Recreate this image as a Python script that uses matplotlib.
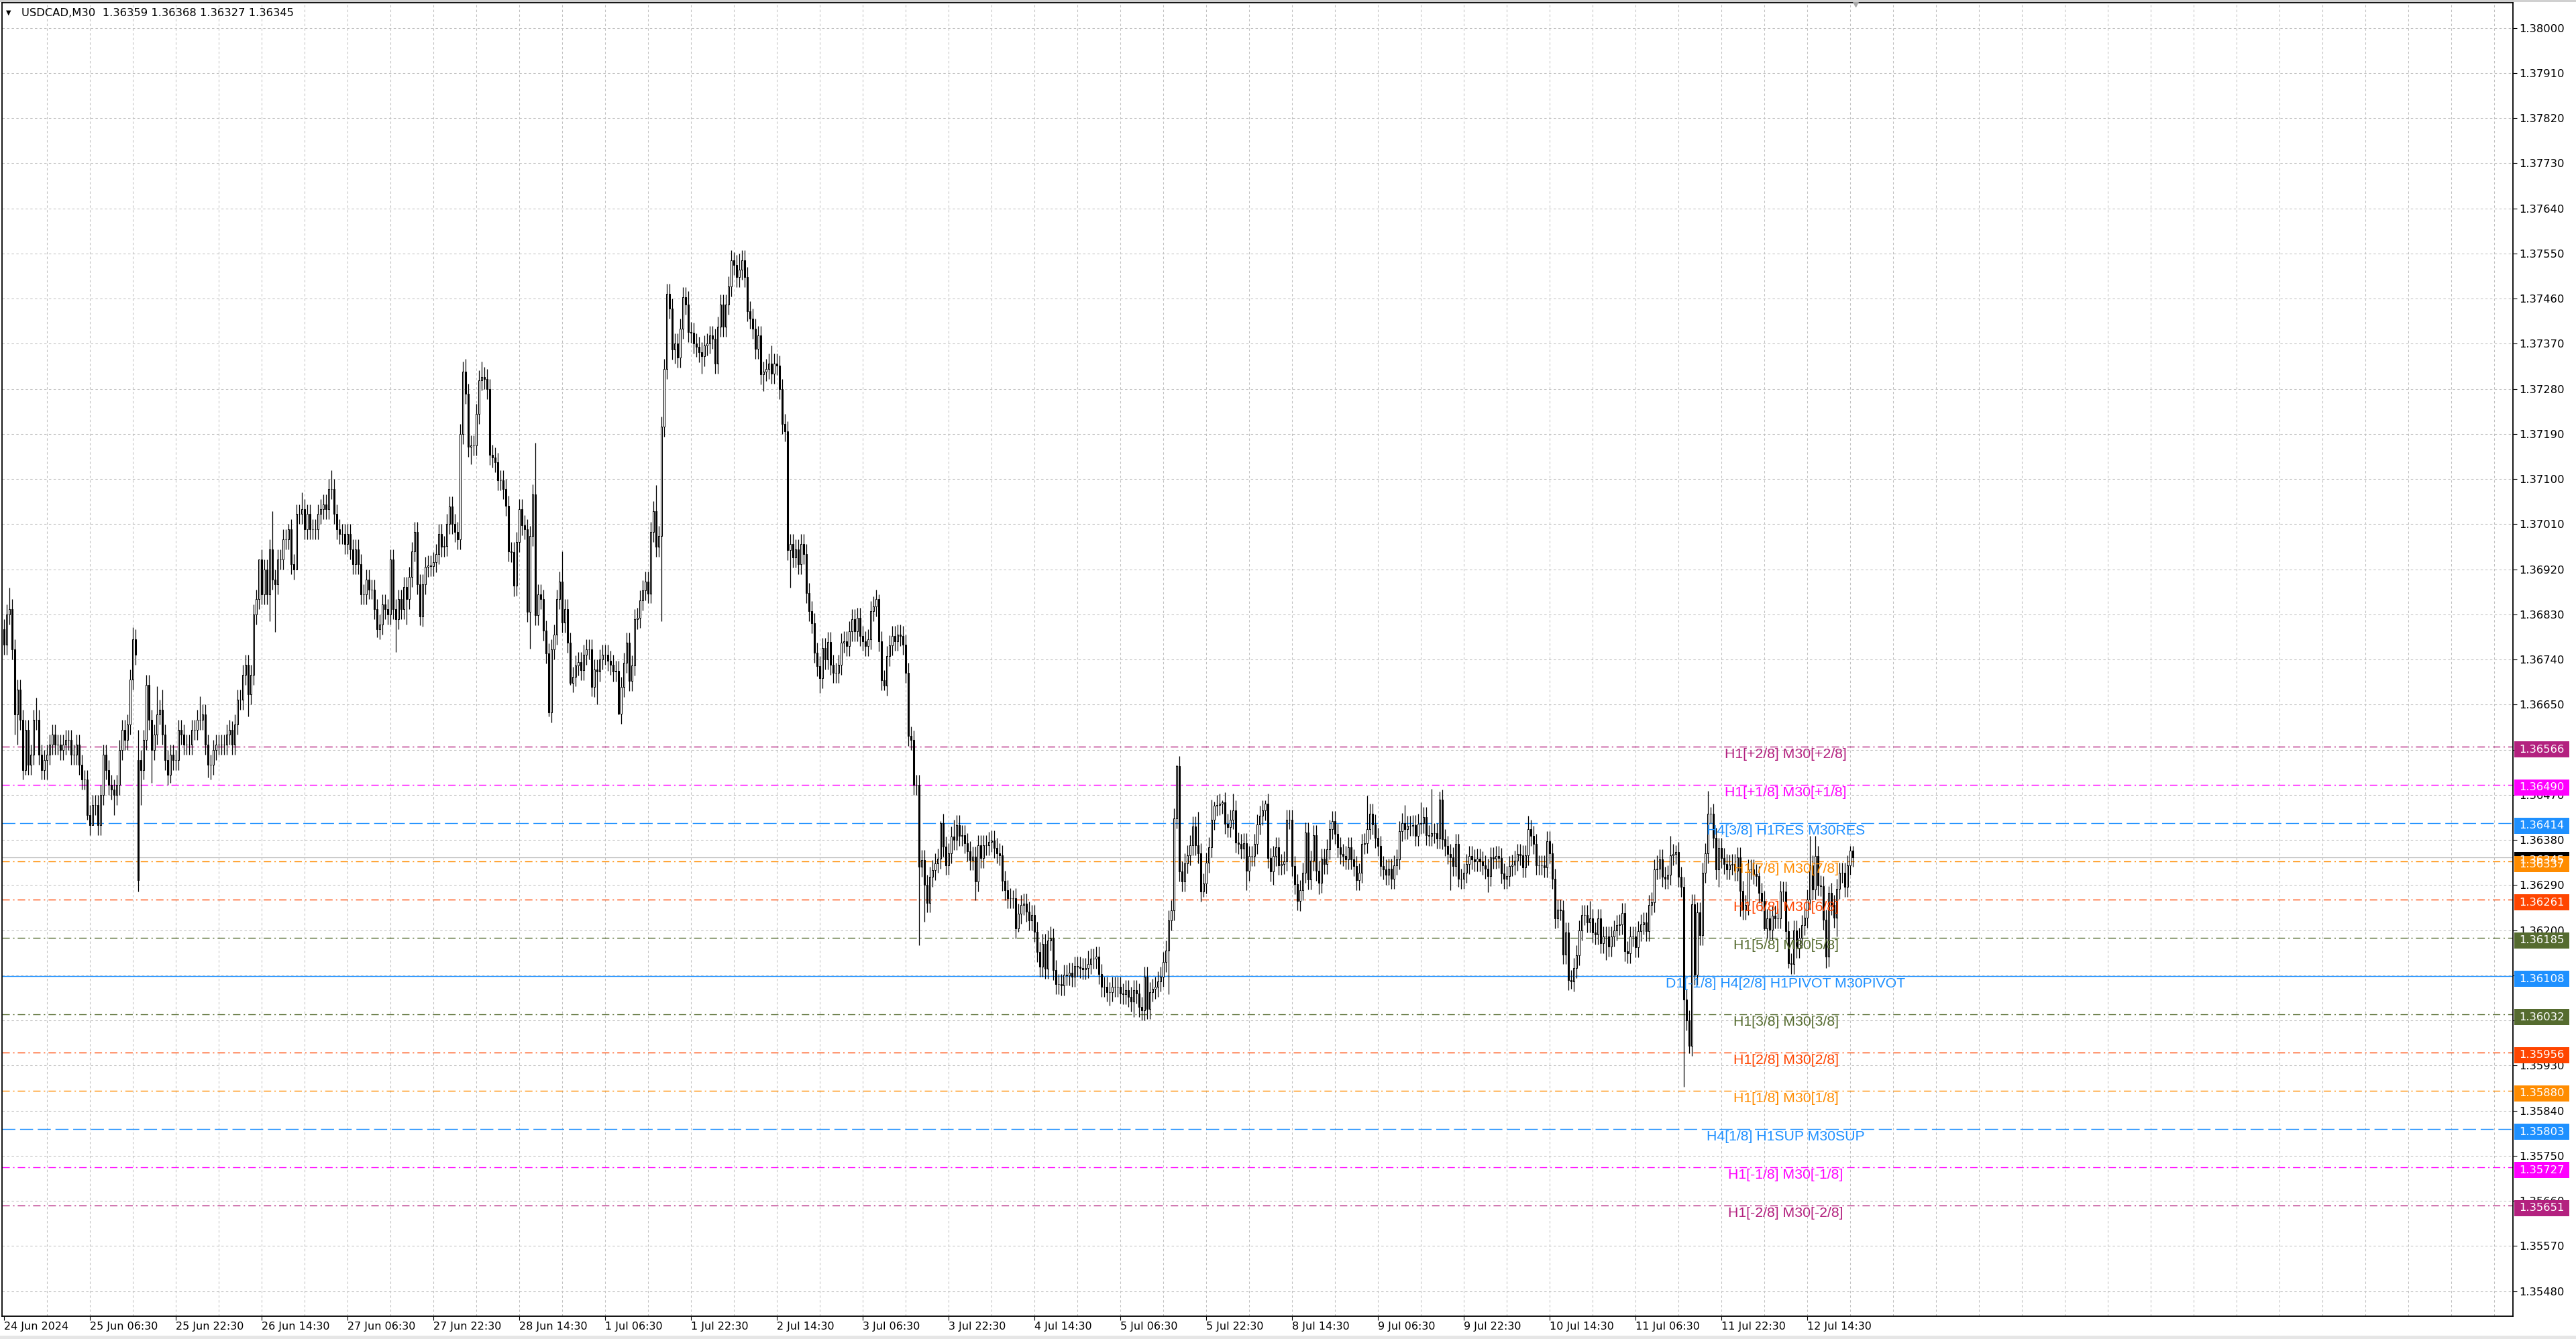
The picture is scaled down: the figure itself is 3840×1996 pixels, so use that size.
import numpy as np
import matplotlib
matplotlib.use("Agg")
import matplotlib.pyplot as plt
from matplotlib.patches import Rectangle
from matplotlib.transforms import blended_transform_factory

plt.rcParams['lines.scale_dashes'] = False

# prices are kept in pips above 1.3600
BASE = 1.3600
PIP = 0.0001

# M30 closes, 24 Jun 14:30 -> 12 Jul 23:30
close_pips = [
    77, 83, 84, 76, 63, 68, 62, 52, 60, 53,
    55, 62, 62, 55, 52, 54, 55, 57, 59, 57,
    57, 56, 57, 58, 58, 55, 55, 57, 53, 50,
    50, 43, 41, 45, 45, 41, 47, 55, 52, 49,
    48, 47, 49, 56, 60, 58, 61, 70, 78, 75,
    30, 52, 58, 69, 62, 56, 59, 63, 64, 59,
    54, 51, 55, 54, 54, 60, 59, 57, 57, 57,
    60, 60, 62, 62, 63, 57, 53, 53, 56, 57,
    57, 57, 57, 59, 60, 57, 61, 66, 66, 71,
    73, 67, 71, 83, 86, 94, 87, 92, 87, 96,
    90, 89, 94, 94, 98, 98, 100, 93, 92, 103,
    103, 104, 100, 103, 100, 100, 100, 103, 104, 105,
    104, 108, 108, 103, 100, 99, 99, 97, 99, 96,
    93, 96, 93, 87, 87, 90, 88, 88, 84, 80,
    81, 85, 84, 83, 94, 84, 82, 86, 84, 88.5,
    86, 90.5, 95.5, 99.5, 89, 82.6, 89, 92.5, 92.7, 92.6,
    93.4, 95, 99, 96.5, 96.6, 101, 104.6, 101, 99.5, 98,
    119, 131.5, 127, 116.4, 116.7, 116.7, 123, 129.7, 130.4, 130,
    128, 114.8, 114.3, 113.3, 109.7, 109.7, 108, 104.7, 95.5, 95.4,
    88.8, 97.4, 104, 100.8, 100, 83.5, 98.6, 107, 82.9, 87,
    86, 79.8, 75.2, 63.5, 76, 79, 86, 89.5, 81.4, 84,
    77.4, 69.4, 70.6, 72.8, 73.5, 71.9, 75, 76, 76, 68.5,
    72, 71.6, 74, 75, 75, 73.7, 73, 71.6, 71.8, 63.2,
    68.5, 73.4, 77.4, 69.7, 72.8, 82, 82.3, 85.8, 87.8, 89.5,
    87.2, 99.5, 103.6, 96.5, 98.7, 120.4, 132, 146.9, 144, 135.8,
    137, 134.3, 140, 146.3, 144.8, 139.3, 139.2, 137, 136.4, 135.3,
    134.5, 136.7, 137, 138.6, 138, 133, 140.4, 144.8, 140.4, 144.8,
    148.4, 153.6, 152.7, 150.3, 151.8, 153.6, 150.3, 143.5, 142, 140,
    136, 138.6, 130.9, 131.5, 132, 133, 131, 133, 132.7, 128,
    121, 119.5, 95.8, 97, 94.3, 96, 93, 97, 95, 87.3,
    83.7, 81.3, 75.3, 72.7, 70.3, 76.3, 74, 77.5, 73, 71.3,
    71.3, 73, 77.3, 77.6, 76.7, 79.6, 82, 79.6, 82.3, 78.7,
    77.7, 76.7, 78, 83.7, 84.6, 86, 77.6, 69.9, 68.8, 74.7,
    76.8, 78.7, 77.7, 79, 78.7, 77, 71.3, 58.7, 57.9, 49,
    49, 32.7, 34, 29, 25.5, 30.7, 32, 33.4, 34.3, 41.3,
    36.7, 33, 35.4, 38.7, 38, 41, 38.8, 39, 37.4, 35.7,
    34, 34.7, 29.7, 37, 34.4, 37, 37, 37.6, 37.9, 36.4,
    35.3, 35, 29.9, 28, 26.4, 26.4, 26.4, 20.3, 23.3, 25,
    25.3, 23.7, 22, 23, 19.7, 15.7, 12.7, 17.3, 12.3, 18,
    18.4, 12, 9.3, 9.2, 9, 11.1, 11, 11.5, 10.7, 12.8,
    12.7, 12.5, 12.2, 12.5, 13.3, 14.3, 14.3, 14.7, 11.3, 8.7,
    8.7, 7.7, 7.7, 8.7, 8.7, 8.7, 7.4, 7.2, 8, 6.7,
    5.7, 8, 7.4, 4.7, 4, 10.7, 4.3, 7.7, 8.3, 8.7,
    9.8, 10.7, 13.7, 16, 22, 24, 42.3, 52.7, 31.7, 29.7,
    33.3, 35, 37, 40.7, 37, 35.3, 27.7, 29.3, 33.5, 36.6,
    42, 44.8, 45, 45.2, 45.5, 41.2, 40.5, 42.1, 43.9, 37.5,
    37.2, 36.3, 37.4, 31.9, 34.8, 34.8, 37.2, 41.1, 42.9, 43.9,
    45.2, 34.4, 31.7, 34.8, 36.5, 33, 33.2, 33.8, 42.1, 42.1,
    32.8, 29.2, 25.9, 28, 31.5, 39.5, 30.1, 33.9, 38.9, 31.9,
    29.4, 34.3, 33.2, 36.1, 40.1, 41.8, 39.2, 36.6, 35.2, 34.8,
    34.1, 36.5, 34.1, 32.8, 30, 31.4, 37.2, 37.4, 40.1, 43.3,
    41.1, 38.4, 36.8, 32.8, 32.1, 31, 32.3, 30.3, 33, 34.1,
    39.7, 41.4, 40.1, 40.8, 40.8, 41, 38.8, 41.2, 41.4, 42.6,
    39, 38.8, 39.3, 39.4, 38.3, 46.1, 38.1, 36.8, 35.2, 34.6,
    32.8, 37.2, 30.3, 30.3, 31.4, 33.2, 34.8, 34.1, 33.7, 34.3,
    33.7, 33, 32.3, 30.8, 34.6, 34.3, 34.8, 34.4, 31.3, 30.3,
    30.8, 32.8, 33.1, 33.9, 35.2, 35, 32.5, 35, 40.1, 38.8,
    37.2, 33, 33, 33, 32.5, 37.7, 35.4, 30.3, 22.3, 24.1,
    24, 15.2, 19.6, 10, 9.8, 12.5, 15, 19.9, 23, 23,
    21.6, 22.3, 19.6, 19.2, 22.3, 17.4, 18.7, 18.7, 16.7, 18.7,
    19.9, 21, 21.2, 23.4, 15.8, 15.4, 18.7, 18.7, 16.6, 19.8,
    21.2, 21.5, 19.8, 25, 25.6, 32.1, 32.2, 34.1, 30.6, 30.3,
    31, 35, 35.2, 35.6, 30.6, 28.6, 6.2, 2, -3.1, 25.2,
    11.1, 23.6, 19, 31.5, 35.3, 43.3, 43.3, 38.4, 32.1, 36.4,
    34.4, 33.2, 32.1, 33.1, 33.2, 31.9, 34.6, 27.9, 24.1, 25,
    32.1, 32.1, 31.2, 30.8, 27.4, 25.9, 20.3, 22.3, 20.1, 22.9,
    22.4, 22.3, 27.7, 27.7, 19.8, 13.4, 13.2, 20, 16.5, 18.5,
    21, 22.5, 26.1, 33, 28.1, 34.8, 28.9, 28.8, 22.1, 14.7,
    27.4, 25, 22.5, 28.3, 31.5, 31.5, 28.6, 33, 35.9, 34.5,
]
first_open = 80
open_fix = {50: 54, 51: 54}

# wick extremes that stand out in the picture
high_pips = {2: 88.3, 12: 66.4, 48: 80.4, 50: 60, 53: 71, 57: 68.7, 59: 68, 73: 66.6,
             85: 61.7, 95: 74.2, 100: 103.6, 106: 101, 111: 107.3, 122: 111.7, 172: 134,
             178: 133.4, 198: 117.2, 208: 95.5, 243: 108.8, 248: 149, 255: 147.5,
             272: 155.2, 274: 155, 286: 136.7, 326: 87, 349: 41.7, 354: 42, 366: 39,
             376: 28, 390: 20.7, 404: 16, 437: 53, 445: 43.7, 450: 46, 451: 45.7,
             454: 45.9, 458: 47.2, 470: 45.9, 508: 46.8, 522: 45, 528: 45.5, 532: 48.2,
             535: 47.7, 568: 42.8, 576: 39.7, 591: 25.9, 616: 35, 621: 38.8, 623: 37,
             635: 47.8, 636: 44.6, 662: 29.9, 673: 38.8, 675: 38.8, 680: 28.8,
             688: 36.8, 689: 36.8}
low_pips = {4: 59, 5: 57, 8: 51, 14: 50, 16: 50, 31: 42, 33: 41, 41: 43, 50: 27.7,
            51: 45, 55: 49.4, 62: 49.4, 76: 50.4, 77: 50, 91: 62.6, 99: 81.6, 101: 79.5,
            109: 92, 139: 78.5, 146: 75.5, 150: 81, 155: 80.8, 174: 113, 190: 86.6,
            196: 76.2, 203: 62.6, 211: 69, 219: 66.6, 221: 65, 229: 63, 245: 81.7,
            250: 133, 260: 131, 283: 127.5, 293: 88.3, 304: 67.3, 328: 67.8, 341: 17,
            343: 21.7, 362: 26, 378: 19.7, 388: 10.3, 412: 5, 421: 2.7, 434: 7.3,
            447: 26.7, 463: 28, 473: 29, 482: 24, 490: 27.2, 505: 28, 517: 28.3,
            539: 28, 542: 28.7, 553: 27.6, 579: 20.5, 584: 8.3, 597: 14, 604: 13.8,
            626: -11.2, 628: -4.5, 639: 28.6, 647: 22.8, 656: 20, 665: 12.5, 666: 11.2,
            679: 12.5, 683: 18.7, 689: 32.7}
WICK = 2.0

price_ticks = [1.35480, 1.35570, 1.35660, 1.35750, 1.35840, 1.35930, 1.36020, 1.36110,
               1.36200, 1.36290, 1.36380, 1.36470, 1.36560, 1.36650, 1.36740, 1.36830,
               1.36920, 1.37010, 1.37100, 1.37190, 1.37280, 1.37370, 1.37460, 1.37550,
               1.37640, 1.37730, 1.37820, 1.37910, 1.38000]
time_labels = ["24 Jun 2024", "25 Jun 06:30", "25 Jun 22:30", "26 Jun 14:30", "27 Jun 06:30",
               "27 Jun 22:30", "28 Jun 14:30", "1 Jul 06:30", "1 Jul 22:30", "2 Jul 14:30",
               "3 Jul 06:30", "3 Jul 22:30", "4 Jul 14:30", "5 Jul 06:30", "5 Jul 22:30",
               "8 Jul 14:30", "9 Jul 06:30", "9 Jul 22:30", "10 Jul 14:30", "11 Jul 06:30",
               "11 Jul 22:30", "12 Jul 14:30"]

level_prices = [1.36566, 1.36490, 1.36414, 1.36337, 1.36261, 1.36185, 1.36108,
                1.36032, 1.35956, 1.35880, 1.35803, 1.35727, 1.35651]
level_names = ["H1[+2/8] M30[+2/8]", "H1[+1/8] M30[+1/8]", "H4[3/8] H1RES M30RES",
               "H1[7/8] M30[7/8]", "H1[6/8] M30[6/8]", "H1[5/8] M30[5/8]",
               "D1[-1/8] H4[2/8] H1PIVOT M30PIVOT", "H1[3/8] M30[3/8]", "H1[2/8] M30[2/8]",
               "H1[1/8] M30[1/8]", "H4[1/8] H1SUP M30SUP", "H1[-1/8] M30[-1/8]",
               "H1[-2/8] M30[-2/8]"]
level_colors = ["#B3217F", "#FF00FF", "#1E90FF", "#FF8C00", "#FF4500", "#556B2F", "#1E90FF",
                "#556B2F", "#FF4500", "#FF8C00", "#1E90FF", "#FF00FF", "#B3217F"]
level_kind = ["dd", "dd", "dash", "dd", "dd", "dd", "solid",
              "dd", "dd", "dd", "dash", "dd", "dd"]
last_price = 1.36345

# build OHLC
closes = BASE + np.array(close_pips) * PIP
opens = np.r_[BASE + first_open * PIP, closes[:-1]]
for k, v in open_fix.items():
    opens[k] = BASE + v * PIP
top = np.maximum(opens, closes)
bot = np.minimum(opens, closes)
highs = top + WICK * PIP
lows = bot - WICK * PIP
for k, v in high_pips.items():
    highs[k] = max(top[k], BASE + v * PIP)
for k, v in low_pips.items():
    lows[k] = min(bot[k], BASE + v * PIP)
x = np.arange(len(closes))

W, H = 3840, 1996
fig = plt.figure(figsize=(W / 100, H / 100), dpi=100)
ax = fig.add_axes([3 / W, 34 / H, 3743 / W, 1958 / H])
ax.set_xlim(-0.75, 935)
y_top = 1.380504
y_bot = 1.354300
ax.set_ylim(y_bot, y_top)
px_per_unit = 1958 / (y_top - y_bot)

grid_kw = dict(color="#C0C0C0", lw=0.75, ls=(0, (2.5, 2.5)), zorder=0)
for p in price_ticks:
    ax.axhline(p, **grid_kw)
for gx in range(16, 936, 16):
    ax.axvline(gx, **grid_kw)

# levels
styles = {"dd": (0, (8, 3.5, 1.5, 3.5)), "dash": (0, (14, 5)), "solid": "-"}
for p, c, k in zip(level_prices, level_colors, level_kind):
    ax.axhline(p, color=c, ls=styles[k], lw=1.0, zorder=1)
ax.axhline(last_price, color="#BDBDBD", lw=0.9, zorder=1)

# candles
ax.vlines(x, lows, highs, color="black", lw=0.9, zorder=3)
body_col = np.where(closes < opens, "black", "white")
ax.bar(x, top - bot, bottom=bot, width=0.5, color=body_col, edgecolor="black",
       linewidth=0.75, zorder=4)

for p, name, c in zip(level_prices, level_names, level_colors):
    ax.annotate(name, xy=(664, p), xytext=(0, -1.5), textcoords="offset points",
                ha="center", va="top", color=c, fontsize=15.3,
                family="Liberation Sans", zorder=6)

# axes look
for s in ax.spines.values():
    s.set_color("black")
    s.set_linewidth(1.3)
ax.yaxis.tick_right()
ax.set_yticks(price_ticks)
ax.set_yticklabels([f"{p:.5f}" for p in price_ticks])
ax.set_xticks(np.arange(len(time_labels)) * 32)
ax.set_xticklabels(time_labels, ha="left")
ax.tick_params(axis="y", direction="out", length=4, width=0.8, pad=3, labelsize=11.8)
ax.tick_params(axis="x", direction="out", length=4, width=0.8, pad=2, labelsize=11.5)

# price boxes on the right (MT4 draws them a few px below the price)
tr = blended_transform_factory(ax.transAxes, ax.transData)
box_w = 82 / 3743
box_h = 24 / px_per_unit
shift = 4 / px_per_unit
others = [(p, c) for p, c in zip(level_prices, level_colors)]
for p, c in [(last_price, "black")] + others:
    yc = p - shift
    ax.add_patch(Rectangle((1 + 2 / 3743, yc - box_h / 2), box_w, box_h, transform=tr,
                           facecolor=c, edgecolor="none", clip_on=False, zorder=7))
    ax.text(1 + 9 / 3743, yc, f"{p:.5f}", transform=tr, ha="left", va="center",
            color="white", fontsize=11.8, clip_on=False, zorder=8)

# header text
fig.text(9 / W, 1 - 19 / H, "\u25bc", fontsize=7, va="center", ha="left")
fig.text(32 / W, 1 - 19 / H, "USDCAD,M30  1.36359 1.36368 1.36327 1.36345",
         fontsize=11.8, va="center", ha="left")

# chart shift marker and window edges
ax.plot([690], [y_top], marker="v", markersize=8, color="#A8A8A8", clip_on=False,
        zorder=9)
fig.add_artist(Rectangle((0, 0), 1, 5 / H, transform=fig.transFigure,
                         facecolor="#E6E6E6", edgecolor="none"))
fig.add_artist(Rectangle((0, 1 - 3 / H), 1, 3 / H, transform=fig.transFigure,
                         facecolor="#D0D0D0", edgecolor="none"))

fig.savefig("out.png", dpi=100, facecolor="white")
